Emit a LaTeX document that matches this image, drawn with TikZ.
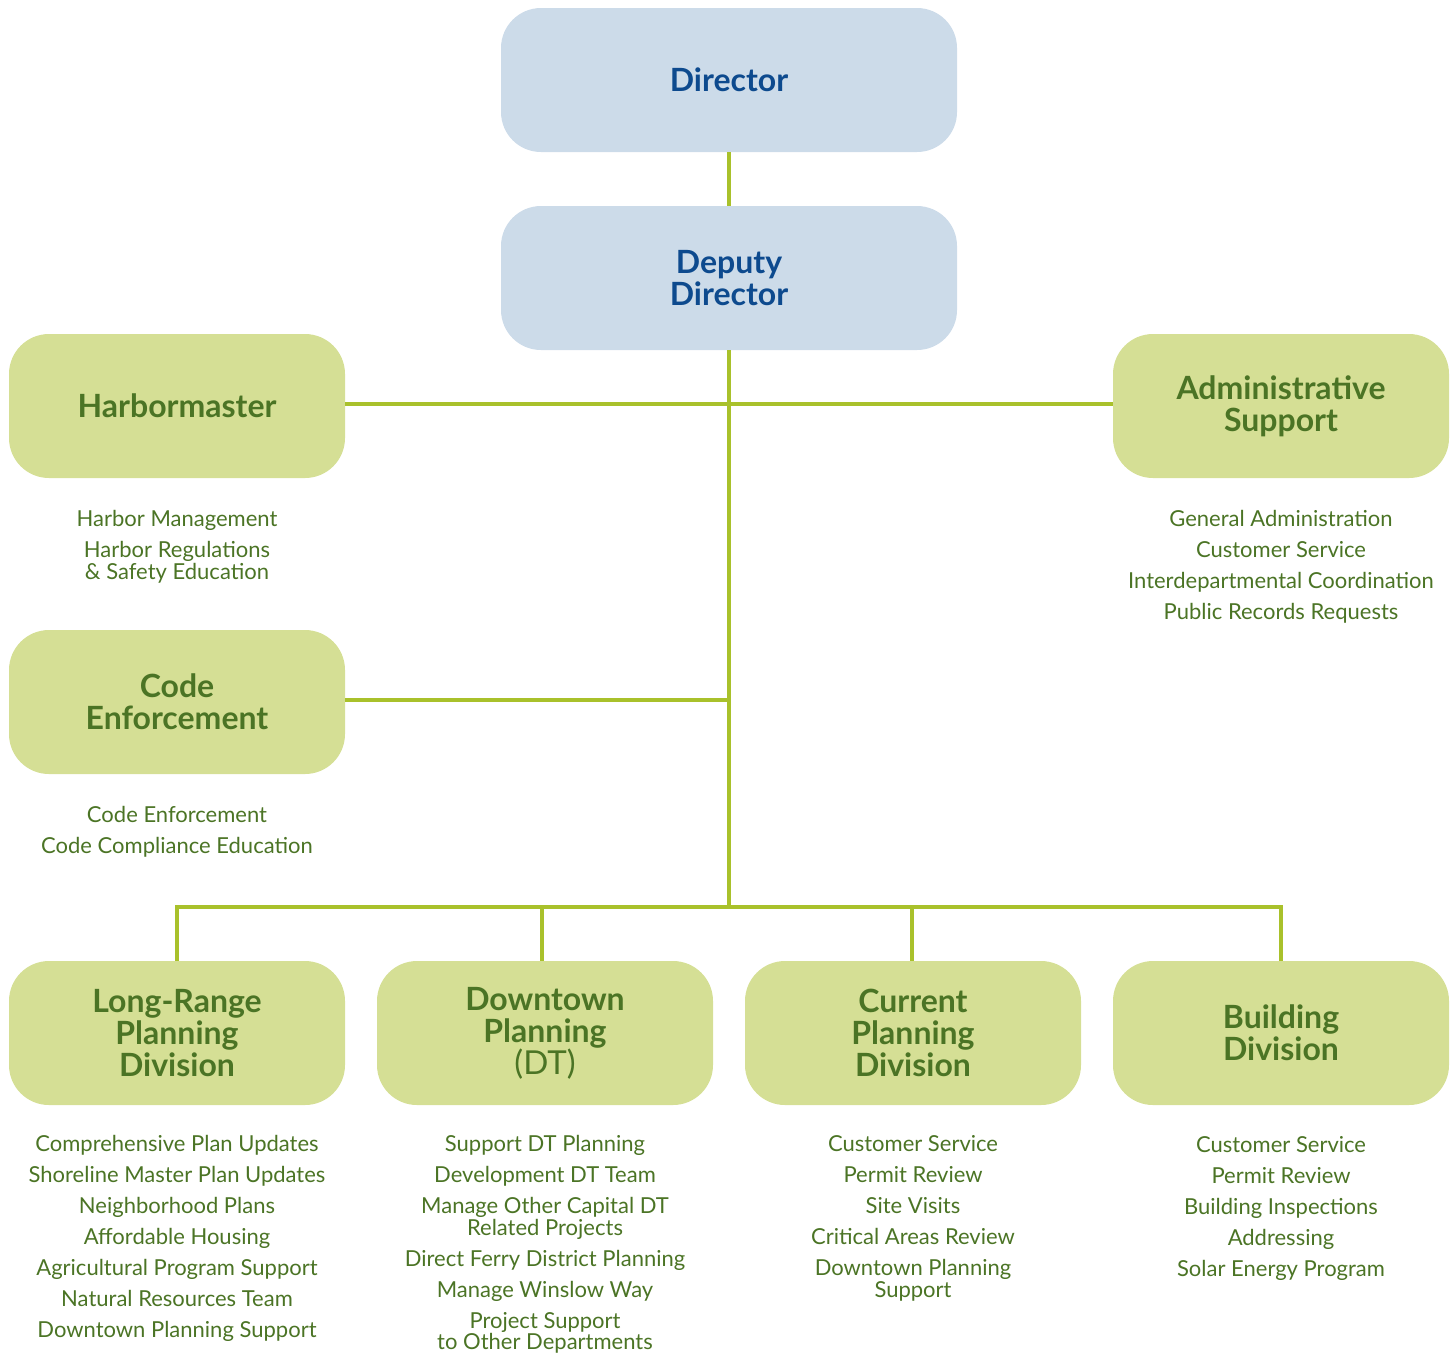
\documentclass[tikz,border=0pt]{standalone}
\usepackage{fontspec}
\usetikzlibrary{calc}
\setmainfont{Lato}
\definecolor{topfill}{HTML}{CCDBE9}
\definecolor{topblue}{HTML}{0D4A8E}
\definecolor{divfill}{HTML}{D5DF95}
\definecolor{divgreen}{HTML}{4B7425}
\definecolor{linkgreen}{HTML}{A9C12B}
\newcommand{\headfont}{\fontsize{32}{32}\selectfont\bfseries}
\newcommand{\dutyfont}{\fontsize{22}{22}\selectfont}
\newcommand{\gap}{\\[9pt]}
\begin{document}
\begin{tikzpicture}[x=1pt,y=-1pt,
  box/.style={rounded corners=40pt, minimum width=336pt, minimum height=144pt,
    inner sep=0pt, align=center, font=\headfont},
  topbox/.style={box, fill=topfill, text=topblue, minimum width=456pt},
  divbox/.style={box, fill=divfill, text=divgreen},
  link/.style={draw=linkgreen, line width=4pt, line join=miter},
  duties/.style={align=center, text=divgreen, font=\dutyfont, anchor=north, inner sep=0pt}]
\useasboundingbox (0,0) rectangle (1455,1353);

% management
\node[topbox] (dir) at (729,80) {Director};
\node[topbox] (dep) at (729,278) {Deputy\\Director};

% side units
\node[divbox] (harb) at (177,406) {Harbormaster};
\node[divbox] (admin) at (1281,406) {Administrative\\Support};
\node[divbox] (code) at (177,702) {Code\\Enforcement};

% divisions
\node[divbox] (lrp) at (177,1033) {Long-Range\\Planning\\Division};
\node[divbox] (dt) at (545,1033) {Downtown\\Planning\\{\mdseries\fontsize{33}{32}\selectfont(DT)}};
\node[divbox] (cur) at (913,1033) {Current\\Planning\\Division};
\node[divbox] (bld) at (1281,1033) {Building\\Division};

% connectors
\coordinate (hub) at (729,907);
\draw[link] (dir.south) -- (dep.north);
\draw[link] (dep.south) -- (hub);
\draw[link] ($(harb.east)+(0,-2)$) -- ($(admin.west)+(0,-2)$);
\draw[link] ($(code.east)+(0,-2)$) -- (729,700);
\draw[link] (lrp.north) -- (lrp.north |- hub) -- (bld.north |- hub) -- (bld.north);
\draw[link] (dt.north) ++(-3,0) -- ++(0,-54);
\draw[link] (cur.north) ++(-1,0) -- ++(0,-54);

% duties
\node[duties] (harbd) at (177,510) {Harbor Management\gap Harbor Regulations\\\& Safety Education};
\node[duties] (admind) at (1281,510) {General Administration\gap Customer Service\gap Interdepartmental Coordination\gap Public Records Requests};
\node[duties] (coded) at (177,806) {Code Enforcement\gap Code Compliance Education};
\node[duties] (lrpd) at (177,1135) {Comprehensive Plan Updates\gap Shoreline Master Plan Updates\gap Neighborhood Plans\gap Affordable Housing\gap Agricultural Program Support\gap Natural Resources Team\gap Downtown Planning Support};
\node[duties] (dtd) at (545,1135) {Support DT Planning\gap Development DT Team\gap Manage Other Capital DT\\Related Projects\gap Direct Ferry District Planning\gap Manage Winslow Way\gap Project Support\\[-1pt]to Other Departments};
\node[duties] (curd) at (913,1135) {Customer Service\gap Permit Review\gap Site Visits\gap Critical Areas Review\gap Downtown Planning\\Support};
\node[duties] (bldd) at (1281,1136) {Customer Service\gap Permit Review\gap Building Inspections\gap Addressing\gap Solar Energy Program};
\end{tikzpicture}
\end{document}
